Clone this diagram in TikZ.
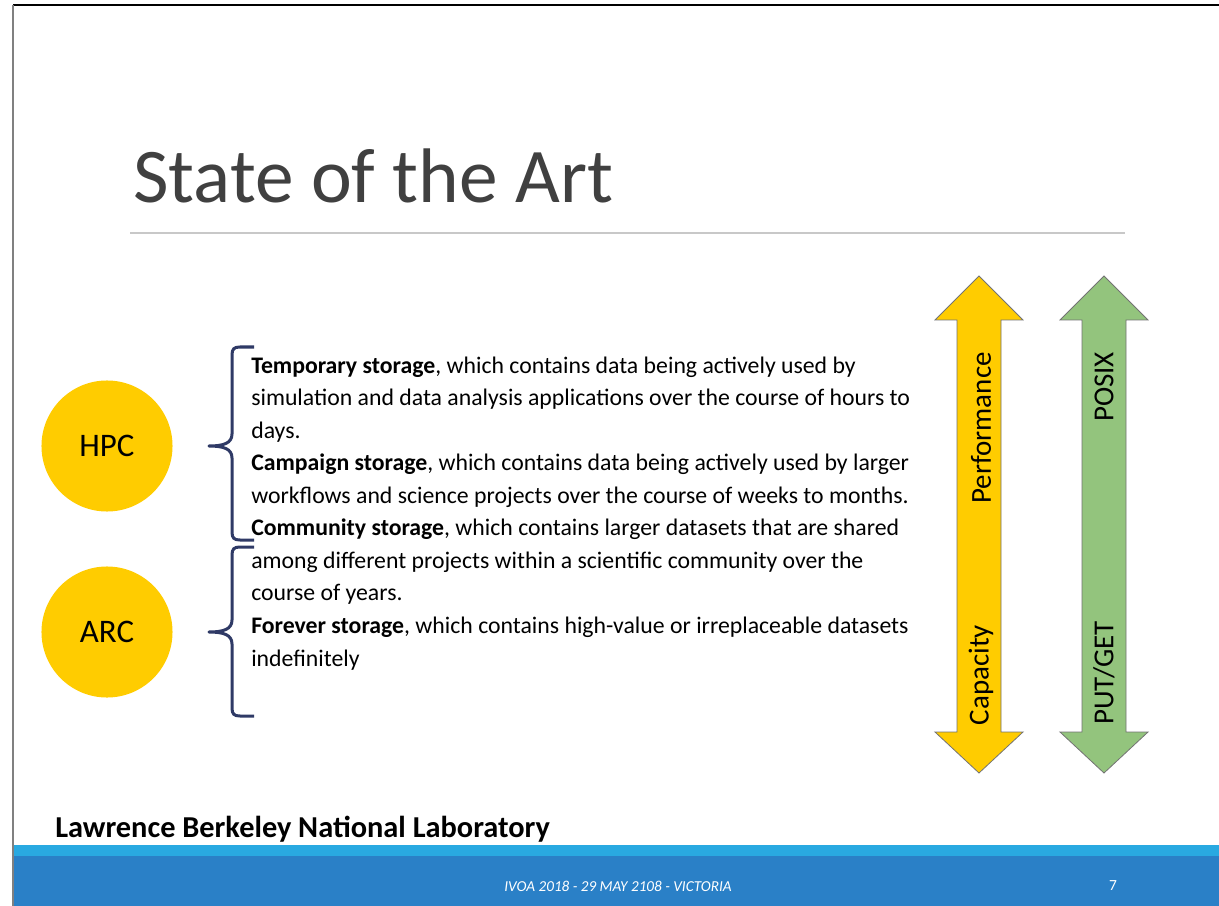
\documentclass[tikz,border=0pt]{standalone}
\usepackage{fontspec}
\setmainfont{Carlito}
\usetikzlibrary{positioning}
\definecolor{slidegold}{HTML}{FFCC00}
\definecolor{slidegreen}{HTML}{93C47D}
\definecolor{bracenavy}{HTML}{2F3A66}
\definecolor{titlegray}{HTML}{404040}
\definecolor{rulegray}{HTML}{C8C8C8}
\definecolor{footlight}{HTML}{29A9E1}
\definecolor{footblue}{HTML}{2A80C7}
\def\px{0.025cm}

\begin{document}
\begin{tikzpicture}[x=\px,y=-\px]
	\tikzstyle{hub}=[circle,fill=slidegold,minimum size=3.275cm,inner sep=0pt,font=\fontsize{23.4}{26}\selectfont]
	\tikzstyle{brace}=[draw=bracenavy,line width=0.075cm,line join=round]
	\tikzstyle{bigarrow}=[draw=black!55,line width=0.02cm,line join=miter]
	\tikzstyle{axislabel}=[rotate=90,inner sep=0pt,font=\fontsize{20.6}{23}\selectfont]
	\tikzstyle{body}=[align=left,inner sep=0pt,anchor=base west,font=\fontsize{16.9}{23.12}\selectfont]

	\useasboundingbox (0,0) rectangle (1219,906);
	\fill[white] (0,0) rectangle (1219,906);

	% Draw the slide frame and footer band
	\fill[footlight] (13,845) rectangle (1219,856);
	\fill[footblue] (13,856) rectangle (1219,906);
	\draw[black,line width=0.04cm] (13,5) -- (1219,5);
	\draw[gray,line width=0.05cm] (13,5) -- (13,906);

	% Title and rule
	\node[anchor=base west,inner sep=0pt,text=titlegray,font=\fontsize{55}{60}\selectfont] (title) at (133,203) {State of the Art};
	\draw[rulegray,line width=0.05cm] (130,233) -- (1125,233);

	% Draw the two system circles
	\node[hub] (HPC) at (107,446) {HPC};
	\node[hub] (ARC) at (107,632) {ARC};

	% Braces grouping the storage tiers
	\foreach \top/\tip/\bot in {347/446/540, 547/632/716}
	\draw[brace] (254,\top) -- (240,\top) .. controls (234,\top) and (232,\top+2) .. (232,\top+8)
		-- (232,\tip-12) .. controls (232,\tip-3) and (224,\tip) .. (209,\tip)
		.. controls (224,\tip) and (232,\tip+3) .. (232,\tip+12)
		-- (232,\bot-8) .. controls (232,\bot-2) and (234,\bot) .. (240,\bot) -- (254,\bot);

	% Storage tiers text (anchored on the last line)
	\node[body] (tiers) at (251,666) {\textbf{Temporary storage}, which contains data being actively used by\\
		simulation and data analysis applications over the course of hours to\\
		days.\\
		\textbf{Campaign storage}, which contains data being actively used by larger\\
		workflows and science projects over the course of weeks to months.\\
		\textbf{Community storage}, which contains larger datasets that are shared\\
		among different projects within a scientific community over the\\
		course of years.\\
		\textbf{Forever storage}, which contains high-value or irreplaceable datasets\\
		indefinitely};

	% Draw the two double arrows
	\foreach \cx/\col in {979/slidegold, 1104/slidegreen}
	\filldraw[bigarrow,fill=\col] (\cx,276) -- (\cx+44,320) -- (\cx+22,320) -- (\cx+22,732) -- (\cx+44,732)
		-- (\cx,773) -- (\cx-44,732) -- (\cx-22,732) -- (\cx-22,320) -- (\cx-44,320) -- cycle;

	\node[axislabel] (perf) at (981,428) {Performance};
	\node[axislabel] (cap) at (981,675) {Capacity};
	\node[axislabel] (posix) at (1104,387) {POSIX};
	\node[axislabel] (putget) at (1104,673) {PUT/GET};

	% Footer texts
	\node[anchor=base west,inner sep=0pt,font=\bfseries\fontsize{21.6}{24}\selectfont] (lab) at (55,837) {Lawrence Berkeley National Laboratory};
	\node[text=white,inner sep=0pt,font=\itshape\fontsize{10.8}{12}\selectfont] (event) at (618,886) {IVOA 2018 - 29 MAY 2108 - VICTORIA};
	\node[text=white,inner sep=0pt,font=\fontsize{11}{12}\selectfont] (page) at (1113,886) {7};
\end{tikzpicture}
\end{document}
